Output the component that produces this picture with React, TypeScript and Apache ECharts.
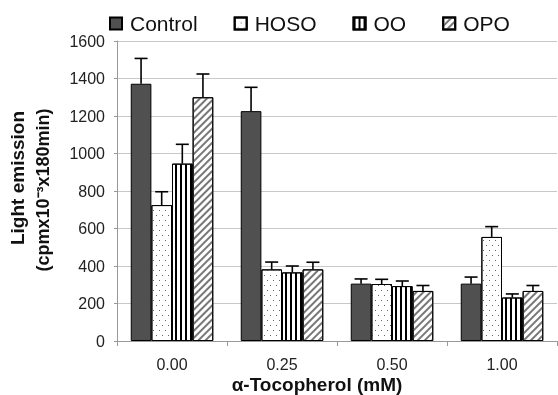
import React, { useEffect, useRef } from "react";
import * as echarts from "echarts";

const categories = ["0.00", "0.25", "0.50", "1.00"];
const seriesNames = ["Control", "HOSO", "OO", "OPO"];
const controlValues = [1372, 1226, 306, 306];
const controlErrors = [135, 127, 25, 35];
const hosoValues = [725, 382, 304, 555];
const hosoErrors = [71, 39, 25, 55];
const ooValues = [946, 366, 293, 232];
const ooErrors = [103, 34, 27, 19];
const opoValues = [1300, 382, 267, 267];
const opoErrors = [124, 38, 29, 29];
const yTicks = { min: 0, max: 1600, interval: 200 };

const allValues = [controlValues, hosoValues, ooValues, opoValues];
const allErrors = [controlErrors, hosoErrors, ooErrors, opoErrors];

const FONT = "Liberation Sans, Arial, sans-serif";

export default function App() {
  const ref = useRef<HTMLDivElement>(null);
  useEffect(() => {
    if (!ref.current) return;
    const chart = echarts.init(ref.current, undefined, { renderer: "svg" });
    const styles: any[] = [
      { color: "#505050", borderColor: "#000", borderWidth: 1 },
      {
        color: "#ffffff",
        borderColor: "#000",
        borderWidth: 1,
        decal: {
          symbol: "rect",
          symbolSize: 1,
          color: "#666",
          dashArrayX: [[1, 5], [0, 3, 1, 2]],
          dashArrayY: [1, 4],
          rotation: 0,
        },
      },
      {
        color: "#ffffff",
        borderColor: "#000",
        borderWidth: 1,
        decal: {
          symbol: "rect",
          symbolSize: 1,
          color: "#000",
          dashArrayX: [2, 3],
          dashArrayY: [10, 0],
          rotation: 0,
        },
      },
      {
        color: "#ffffff",
        borderColor: "#000",
        borderWidth: 1,
        decal: {
          symbol: "rect",
          symbolSize: 1,
          color: "#777",
          dashArrayX: [10, 0],
          dashArrayY: [1.1, 2.6],
          rotation: -Math.PI / 4,
        },
      },
    ];
    const barSeries = seriesNames.map((name, i) => ({
      name,
      type: "bar",
      data: allValues[i],
      barGap: "0%",
      barCategoryGap: "25%",
      itemStyle: styles[i],
      z: 2,
    }));
    const errData: number[][] = [];
    for (let s = 0; s < 4; s++) {
      for (let c = 0; c < categories.length; c++) {
        errData.push([c, s, allValues[s][c], allErrors[s][c]]);
      }
    }
    const errSeries = {
      type: "custom",
      name: "err",
      data: errData,
      encode: { x: 0, y: 2 },
      z: 3,
      silent: true,
      renderItem: (params: any, api: any) => {
        const c = api.value(0);
        const s = api.value(1);
        const v = api.value(2);
        const e = api.value(3);
        const band = api.size([1, 0])[0];
        const bw = (band * 0.75) / 4;
        const base = api.coord([c, v]);
        const top = api.coord([c, v + e]);
        const x = base[0] + (s - 1.5) * bw;
        const half = 6.5;
        const st = { stroke: "#000", lineWidth: 1.6 };
        return {
          type: "group",
          children: [
            { type: "line", shape: { x1: x, y1: base[1], x2: x, y2: top[1] }, style: st },
            { type: "line", shape: { x1: x - half, y1: top[1], x2: x + half, y2: top[1] }, style: st },
          ],
        };
      },
    };
    chart.setOption({
      animation: false,
      textStyle: { fontFamily: FONT },
      grid: { left: 117, right: 1, top: 41, bottom: 54 },
      legend: {
        data: seriesNames,
        left: 104,
        top: 8,
        itemWidth: 12,
        itemHeight: 12,
        itemGap: 36,
        icon: "rect",
        textStyle: { fontSize: 21, color: "#111", fontFamily: FONT, padding: [0, 0, 0, 3] },
      },
      xAxis: {
        type: "category",
        data: categories,
        axisLine: { lineStyle: { color: "#999", width: 1 } },
        axisTick: { show: true, length: 5, lineStyle: { color: "#999" } },
        axisLabel: { fontSize: 16, color: "#222", margin: 15, fontFamily: FONT },
      },
      yAxis: {
        type: "value",
        min: yTicks.min,
        max: yTicks.max,
        interval: yTicks.interval,
        axisLine: { show: true, lineStyle: { color: "#999" } },
        axisTick: { show: true, length: 3, lineStyle: { color: "#999" } },
        axisLabel: {
          fontSize: 16,
          color: "#222",
          margin: 12,
          fontFamily: FONT,
          formatter: (v: number) => String(v),
        },
        splitLine: { lineStyle: { color: "#c8c8c8", width: 1 } },
      },
      graphic: [
        {
          type: "text",
          x: 17.5,
          y: 178,
          rotation: Math.PI / 2,
          style: {
            text: "Light emission",
            font: "bold 19px " + FONT,
            fill: "#111",
            align: "center",
            verticalAlign: "middle",
          },
        },
        {
          type: "text",
          x: 43,
          y: 190,
          rotation: Math.PI / 2,
          style: {
            text: "(cpmx10⁻³x180min)",
            font: "bold 18px " + FONT,
            fill: "#111",
            align: "center",
            verticalAlign: "middle",
          },
        },
        {
          type: "text",
          x: 317,
          y: 384,
          style: {
            text: "α-Tocopherol (mM)",
            font: "bold 19px " + FONT,
            fill: "#111",
            align: "center",
            verticalAlign: "middle",
          },
        },
      ],
      series: [...barSeries, errSeries],
    });
    return () => chart.dispose();
  }, []);
  return (
    <div
      ref={ref}
      style={{ position: "fixed", left: 0, top: 0, width: 558, height: 395 }}
    />
  );
}
